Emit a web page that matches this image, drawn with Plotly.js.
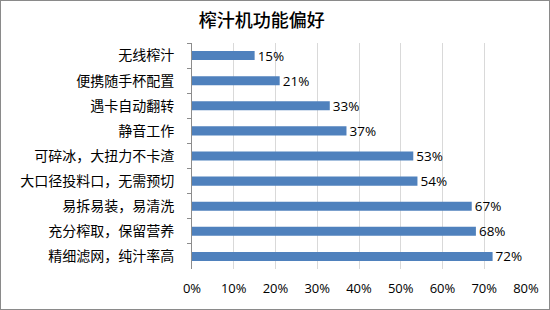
<!DOCTYPE html>
<html>
<head>
<meta charset="utf-8">
<script src="https://cdn.plot.ly/plotly-3.0.1.min.js"></script>
<style>
  html, body { margin: 0; padding: 0; background: #fff; }
  #wrap { width: 550px; height: 310px; box-sizing: border-box; border: 1px solid #8a8a8a; }
  #chart { width: 548px; height: 308px; }
</style>
</head>
<body>
<div id="wrap"><div id="chart"></div></div>
<script>
const categories = ['无线榨汁', '便携随手杯配置', '遇卡自动翻转', '静音工作', '可碎冰，大扭力不卡渣', '大口径投料口，无需预切', '易拆易装，易清洗', '充分榨取，保留营养', '精细滤网，纯汁率高'];
const values = [0.15, 0.21, 0.33, 0.37, 0.53, 0.54, 0.67, 0.68, 0.72];
const tickValues = [0, 0.1, 0.2, 0.3, 0.4, 0.5, 0.6, 0.7, 0.8];
const titleText = '榨汁机功能偏好';

const cjk = '"Noto Sans CJK SC", "Noto Sans", sans-serif';
const latin = '"Open Sans", "Liberation Sans", sans-serif';

const trace = {
  type: 'bar',
  orientation: 'h',
  y: categories,
  x: values,
  marker: { color: '#4F81BD' },
  text: values.map(v => Math.round(v * 100) + '%'),
  textposition: 'outside',
  constraintext: 'none',
  cliponaxis: false,
  textfont: { family: latin, size: 13.5, color: '#000' },
  hoverinfo: 'none'
};

const layout = {
  width: 548, height: 308,
  margin: { l: 191, r: 23, t: 42, b: 40 },
  paper_bgcolor: '#fff', plot_bgcolor: '#fff',
  title: { text: titleText, font: { family: cjk, size: 18, color: '#000', weight: 500 }, x: 0.476, xanchor: 'center', y: 0.935, yanchor: 'middle' },
  bargap: 0.64,
  showlegend: false,
  xaxis: {
    range: [0, 0.8],
    tickvals: tickValues,
    tickformat: '.0%',
    showgrid: true, gridcolor: '#d9d9d9', gridwidth: 1,
    zeroline: false, showline: false, ticks: '',
    ticklabelstandoff: 10,
    tickfont: { family: latin, size: 13, color: '#000' },
    fixedrange: true
  },
  yaxis: {
    type: 'category',
    autorange: 'reversed',
    showline: true, linecolor: '#8c8c8c', linewidth: 1,
    ticks: 'outside', ticklen: 4, tickcolor: '#8c8c8c', tickson: 'boundaries',
    showgrid: false,
    ticklabelstandoff: 14,
    tickfont: { family: cjk, size: 14, color: '#000' },
    fixedrange: true
  }
};

Plotly.newPlot('chart', [trace], layout, { displayModeBar: false, staticPlot: true });
</script>
</body>
</html>
